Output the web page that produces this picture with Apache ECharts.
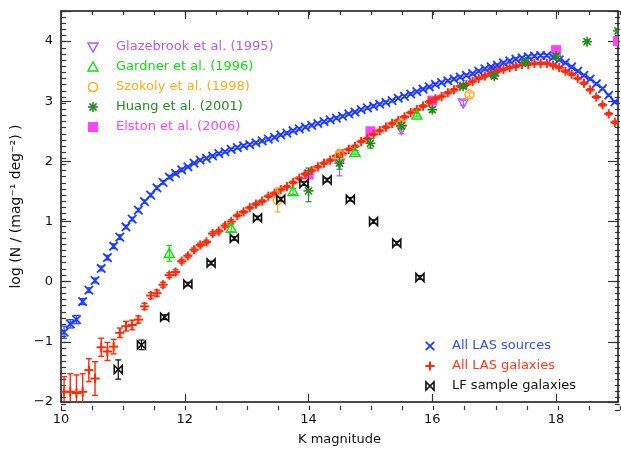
<!DOCTYPE html>
<html><head><meta charset="utf-8">
<script src="https://cdn.jsdelivr.net/npm/echarts@6/dist/echarts.min.js"></script>
<style>html,body{margin:0;padding:0;background:#fff}#c{width:621px;height:451px}</style>
</head><body><div id="c"></div>
<script>
// ---------------- data ----------------
const magBins = [
10.05,10.15,10.25,10.35,10.45,10.55,10.65,10.75,10.85,10.95,
11.05,11.15,11.25,11.35,11.45,11.55,11.65,11.75,11.85,11.95,
12.05,12.15,12.25,12.35,12.45,12.55,12.65,12.75,12.85,12.95,
13.05,13.15,13.25,13.35,13.45,13.55,13.65,13.75,13.85,13.95,
14.05,14.15,14.25,14.35,14.45,14.55,14.65,14.75,14.85,14.95,
15.05,15.15,15.25,15.35,15.45,15.55,15.65,15.75,15.85,15.95,
16.05,16.15,16.25,16.35,16.45,16.55,16.65,16.75,16.85,16.95,
17.05,17.15,17.25,17.35,17.45,17.55,17.65,17.75,17.85,17.95,
18.05,18.15,18.25,18.35,18.45,18.55,18.65,18.75,18.85,18.95];

const lasSources = [
-0.84,-0.70,-0.63,-0.33,-0.14,0.02,0.22,0.40,0.59,0.74,
0.91,1.04,1.19,1.33,1.44,1.56,1.65,1.74,1.80,1.86,
1.91,1.97,2.02,2.05,2.09,2.13,2.16,2.20,2.23,2.26,
2.28,2.31,2.34,2.37,2.40,2.44,2.47,2.51,2.54,2.57,
2.60,2.63,2.66,2.69,2.72,2.75,2.79,2.82,2.86,2.89,
2.92,2.95,2.98,3.01,3.05,3.08,3.12,3.16,3.20,3.24,
3.28,3.31,3.34,3.37,3.40,3.43,3.46,3.50,3.54,3.57,
3.60,3.64,3.67,3.70,3.72,3.74,3.75,3.76,3.76,3.73,
3.69,3.64,3.57,3.50,3.43,3.37,3.29,3.21,3.10,2.99];
const lasSourcesErr = [
0.10,0.07,0.07,0.05,0.04,0.04,0.04,0.04,0.04,0.04,
0.03,0.03,0.03,0.03,0.03,0.03,0.03,0.03,0.03,0.03,
0.02,0.02,0.02,0.02,0.02,0.02,0.02,0.02,0.02,0.02,
0.02,0.02,0.02,0.02,0.02,0.02,0.02,0.02,0.02,0.02,
0.02,0.02,0.02,0.02,0.02,0.02,0.02,0.02,0.02,0.02,
0.02,0.02,0.02,0.02,0.02,0.02,0.02,0.02,0.02,0.02,
0.02,0.02,0.02,0.02,0.02,0.02,0.02,0.02,0.02,0.02,
0.02,0.02,0.02,0.02,0.02,0.02,0.02,0.02,0.02,0.02,
0.02,0.02,0.02,0.02,0.02,0.02,0.02,0.02,0.02,0.02];

const lasGalaxies = [
-1.83,-1.83,-1.85,-1.83,-1.47,-1.61,-1.09,-1.16,-1.08,-0.85,
-0.74,-0.72,-0.63,-0.41,-0.23,-0.19,-0.05,0.11,0.16,0.34,
0.43,0.53,0.61,0.66,0.80,0.84,0.93,1.00,1.10,1.16,
1.23,1.29,1.34,1.42,1.47,1.53,1.58,1.65,1.72,1.79,
1.85,1.91,1.97,2.02,2.09,2.13,2.20,2.25,2.33,2.38,
2.45,2.51,2.57,2.63,2.68,2.74,2.81,2.86,2.92,2.99,
3.04,3.08,3.14,3.19,3.25,3.28,3.33,3.38,3.42,3.46,
3.50,3.53,3.56,3.58,3.61,3.61,3.63,3.63,3.63,3.60,
3.56,3.50,3.45,3.38,3.30,3.19,3.07,2.94,2.79,2.65];
const lasGalaxiesErr = [
0.25,0.30,0.30,0.30,0.19,0.28,0.15,0.15,0.12,0.08,
0.08,0.08,0.06,0.05,0.05,0.05,0.04,0.04,0.04,0.03,
0.03,0.03,0.03,0.03,0.03,0.03,0.03,0.03,0.02,0.02,
0.02,0.02,0.02,0.02,0.02,0.02,0.02,0.02,0.02,0.02,
0.02,0.02,0.02,0.02,0.02,0.02,0.02,0.02,0.02,0.02,
0.02,0.02,0.02,0.02,0.02,0.02,0.02,0.02,0.02,0.02,
0.02,0.02,0.02,0.02,0.02,0.02,0.02,0.02,0.02,0.02,
0.02,0.02,0.02,0.02,0.02,0.02,0.02,0.02,0.02,0.02,
0.02,0.02,0.02,0.02,0.02,0.02,0.02,0.02,0.02,0.02];

const lfMag = [10.925,11.3,11.675,12.05,12.425,12.8,13.175,13.55,13.925,14.3,14.675,15.05,15.425,15.8];
const lfVal = [-1.46,-1.05,-0.59,-0.04,0.31,0.72,1.06,1.37,1.63,1.69,1.37,1.00,0.64,0.07];
const lfErr = [0.16,0.08,0.04,0.03,0.03,0.03,0.03,0.03,0.03,0.03,0.03,0.03,0.03,0.03];

const glazeMag = [14.5,15.5,16.5];
const glazeVal = [1.97,2.53,2.97];
const glazeErr = [0.21,0.07,0.04];

const gardnerMag = [11.75,12.75,13.75,14.75,15.75];
const gardnerVal = [0.47,0.89,1.50,2.15,2.77];
const gardnerErr = [0.13,0.06,0.05,0.03,0.03];

const szokolyMag = [13.5,14.5,15.5,16.6];
const szokolyVal = [1.36,2.10,2.62,3.11];
const szokolyErr = [0.20,0.10,0.05,0.04];

const huangMag = [14.0,14.5,15.0,15.5,16.0,16.5,17.0,17.5,18.0,18.5,19.0];
const huangVal = [1.51,1.97,2.30,2.59,2.86,3.25,3.42,3.65,3.75,3.99,4.17];
const huangErrLo = [0.18,0.10,0.08,0.05,0.04,0.04,0.04,0.03,0.03,0.03,0.03];
const huangErrHi = [0.38,0.10,0.08,0.05,0.04,0.04,0.04,0.03,0.03,0.03,0.03];

const elstonMag = [14,15,16,17,18,19];
const elstonVal = [1.78,2.50,3.01,3.51,3.85,4.00];
const elstonErr = [0.02,0.02,0.02,0.02,0.02,0.02];

const xTickLabels = [10,12,14,16,18];
const yTickLabels = [-2,-1,0,1,2,3,4];

// ---------------- styles ----------------
const C = {
  src:'#1e3cff', gal:'#ff2a0a', lf:'#111111',
  glaze:'#b45cf0', gardner:'#11dd11', szokoly:'#ffaa22', huang:'#228b22', elston:'#ff44ff'
};
const FONT = 'DejaVu Sans';

function markShapes(kind, cx, cy, color) {
  const L = (x1,y1,x2,y2,w) => ({type:'line', shape:{x1,y1,x2,y2}, style:{stroke:color, lineWidth:w}});
  switch(kind){
    case 'x': { const s=4.2; return [L(cx-s,cy-s,cx+s,cy+s,1.8), L(cx-s,cy+s,cx+s,cy-s,1.8)]; }
    case 'plus': { const s=4.6; return [L(cx-s,cy,cx+s,cy,2), L(cx,cy-s,cx,cy+s,2)]; }
    case 'bowtie': return [{type:'polygon', shape:{points:[[cx-4,cy-4],[cx-4,cy+4],[cx+4,cy-4],[cx+4,cy+4]]}, style:{fill:'none', stroke:color, lineWidth:1.6}}];
    case 'tridown': return [{type:'polygon', shape:{points:[[cx-5,cy-4],[cx+5,cy-4],[cx,cy+5]]}, style:{fill:'none', stroke:color, lineWidth:1.5}}];
    case 'triup': return [{type:'polygon', shape:{points:[[cx-5,cy+4],[cx+5,cy+4],[cx,cy-5]]}, style:{fill:'none', stroke:color, lineWidth:1.5}}];
    case 'circle': return [{type:'circle', shape:{cx, cy, r:4.5}, style:{fill:'none', stroke:color, lineWidth:1.5}}];
    case 'star': { const s=5, d=3.6; return [L(cx-s,cy,cx+s,cy,1.6), L(cx,cy-s,cx,cy+s,1.6), L(cx-d,cy-d,cx+d,cy+d,1.6), L(cx-d,cy+d,cx+d,cy-d,1.6)]; }
    case 'square': return [{type:'rect', shape:{x:cx-5, y:cy-5, width:10, height:10}, style:{fill:color}}];
  }
  return [];
}

function errSeries(name, xs, ys, lo, hi, kind, color, z, barW) {
  return {
    type:'custom', name, xAxisIndex:0, yAxisIndex:0, z, clip:true,
    data: xs.map((x,i)=>[x, ys[i], ys[i]-lo[i], ys[i]+hi[i]]),
    encode:{x:0, y:1},
    renderItem(params, api){
      const x = api.value(0);
      const p = api.coord([x, api.value(1)]);
      const a = api.coord([x, api.value(2)]);
      const b = api.coord([x, api.value(3)]);
      const children = [];
      if (Math.abs(a[1]-b[1]) > 1) {
        const st = {stroke:color, lineWidth:barW||1.2};
        children.push({type:'line', shape:{x1:p[0],y1:a[1],x2:p[0],y2:b[1]}, style:st});
        children.push({type:'line', shape:{x1:p[0]-3,y1:a[1],x2:p[0]+3,y2:a[1]}, style:st});
        children.push({type:'line', shape:{x1:p[0]-3,y1:b[1],x2:p[0]+3,y2:b[1]}, style:st});
      }
      markShapes(kind, p[0], p[1], color).forEach(c=>children.push(c));
      return {type:'group', children};
    }
  };
}

// ---------------- axes ----------------
const yFmt = v => (yTickLabels.includes(v) ? (v<0 ? '\u2212'+Math.abs(v) : String(v)) : '');
const xFmt = v => (xTickLabels.includes(v) ? String(v) : '');
const lineSt = {color:'#111', width:1.5};
const tickSt = {color:'#333', width:1.2};
function xAx(grid, pos, interval, len, labels, named){
  const o = {type:'value', gridIndex:grid, position:pos, min:10, max:19, interval,
    axisLine:{show:grid===0, onZero:false, lineStyle:lineSt},
    axisTick:{show:true, inside:true, length:len, lineStyle:tickSt},
    minorTick:{show:false}, splitLine:{show:false},
    axisLabel:{show:labels, formatter:xFmt, color:'#111', fontSize:13, fontFamily:FONT, margin:11}};
  if (named) Object.assign(o, {name:'K magnitude', nameLocation:'middle', nameGap:31,
    nameTextStyle:{color:'#111', fontSize:13, fontFamily:FONT}});
  return o;
}
function yAx(grid, pos, interval, len, labels, named){
  const o = {type:'value', gridIndex:grid, position:pos, min:-2, max:4.5, interval,
    axisLine:{show:grid===0, onZero:false, lineStyle:lineSt},
    axisTick:{show:true, inside:true, length:len, lineStyle:tickSt},
    minorTick:{show:false}, splitLine:{show:false},
    axisLabel:{show:labels, formatter:yFmt, color:'#111', fontSize:13, fontFamily:FONT, margin:8}};
  if (named) Object.assign(o, {name:'log (N / (mag\u207B\u00B9 deg\u207B\u00B2) )', nameLocation:'middle', nameGap:30,
    nameTextStyle:{color:'#111', fontSize:14, fontFamily:FONT}});
  return o;
}

// ---------------- legends (graphic) ----------------
const topLegend = [
  ['tridown', C.glaze, 'Glazebrook et al. (1995)'],
  ['triup', C.gardner, 'Gardner et al. (1996)'],
  ['circle', C.szokoly, 'Szokoly et al. (1998)'],
  ['star', C.huang, 'Huang et al. (2001)'],
  ['square', C.elston, 'Elston et al. (2006)']
];
const botLegend = [
  ['x', C.src, 'All LAS sources', '#2f4dff'],
  ['plus', C.gal, 'All LAS galaxies', '#ff3a1a'],
  ['bowtie', C.lf, 'LF sample galaxies', '#111']
];
const graphics = [];
topLegend.forEach((it,i)=>{
  const y = 47 + i*20;
  graphics.push({type:'group', children: markShapes(it[0], 93, y, it[1])});
  graphics.push({type:'text', x:116, y, style:{text:it[2], fill:it[1], fontSize:13, fontFamily:FONT, verticalAlign:'middle', align:'left'}});
});
botLegend.forEach((it,i)=>{
  const y = 346 + i*20;
  graphics.push({type:'group', children: markShapes(it[0], 430, y, it[1])});
  graphics.push({type:'text', x:452, y, style:{text:it[2], fill:it[3], fontSize:13, fontFamily:FONT, verticalAlign:'middle', align:'left'}});
});

const gridBox = {left:61, top:11, right:1, bottom:41};
const chart = echarts.init(document.getElementById('c'), null, {renderer:'canvas'});
chart.setOption({
  animation:false,
  backgroundColor:'#fff',
  grid:[Object.assign({}, gridBox), Object.assign({}, gridBox)],
  xAxis:[xAx(0,'bottom',2,8,true,true), xAx(0,'top',2,8,false,false),
         xAx(1,'bottom',0.5,4,false,false), xAx(1,'top',0.5,4,false,false)],
  yAxis:[yAx(0,'left',1,10,true,true), yAx(0,'right',1,10,false,false),
         yAx(1,'left',0.1,5,false,false), yAx(1,'right',0.1,5,false,false)],
  graphic:{elements:graphics},
  series:[
    errSeries('Elston et al. (2006)', elstonMag, elstonVal, elstonErr, elstonErr, 'square', C.elston, 2),
    errSeries('All LAS sources', magBins, lasSources, lasSourcesErr, lasSourcesErr, 'x', C.src, 3, 1.2),
    errSeries('All LAS galaxies', magBins, lasGalaxies, lasGalaxiesErr, lasGalaxiesErr, 'plus', C.gal, 4, 1.4),
    errSeries('Glazebrook et al. (1995)', glazeMag, glazeVal, glazeErr, glazeErr, 'tridown', C.glaze, 5),
    errSeries('Gardner et al. (1996)', gardnerMag, gardnerVal, gardnerErr, gardnerErr, 'triup', C.gardner, 6),
    errSeries('Szokoly et al. (1998)', szokolyMag, szokolyVal, szokolyErr, szokolyErr, 'circle', C.szokoly, 7),
    errSeries('Huang et al. (2001)', huangMag, huangVal, huangErrLo, huangErrHi, 'star', C.huang, 8),
    errSeries('LF sample galaxies', lfMag, lfVal, lfErr, lfErr, 'bowtie', C.lf, 9)
  ]
});
</script></body></html>
